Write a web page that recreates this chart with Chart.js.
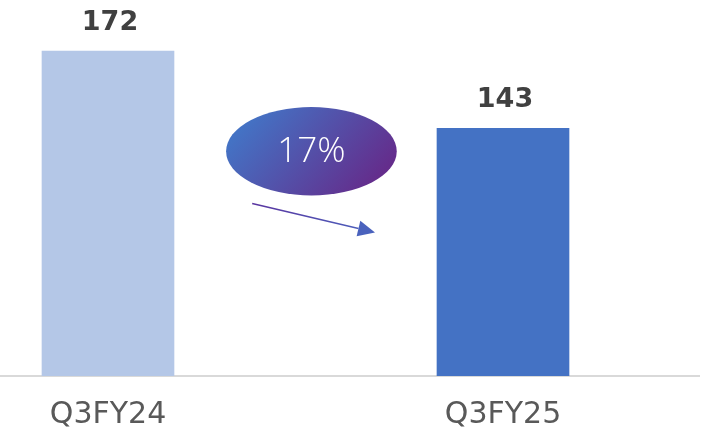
<!DOCTYPE html>
<html>
<head>
<meta charset="utf-8">
<script src="https://cdn.jsdelivr.net/npm/chart.js@4.4.1/dist/chart.umd.min.js"></script>
<style>
  html, body { margin: 0; padding: 0; background: #fff; }
  #wrap { width: 708px; height: 432px; position: relative; }
</style>
</head>
<body>
<div id="wrap"><canvas id="chart"></canvas></div>
<script>
// chart data
var categories = ['Q3FY24', 'Q3FY25'];
var values = [172, 143];
var barColors = ['#b4c7e7', '#4472c4'];
var changeLabel = '17%';

// bubble + arrow placed in data space (x = category index, y = value)
var bubbleAt = { x: 0.515, y: 134.4, rx: 0.216, ry: 16.6 };
var arrowFrom = { x: 0.365, y: 114.8 };
var arrowTo = { x: 0.676, y: 103.9 };

var valueLabels = {
    id: 'valueLabels',
    afterDatasetsDraw: function (chart) {
        var ctx = chart.ctx;
        var meta = chart.getDatasetMeta(0);
        ctx.save();
        ctx.font = 'bold 27px "DejaVu Sans"';
        ctx.fillStyle = '#404040';
        ctx.textAlign = 'center';
        ctx.textBaseline = 'alphabetic';
        meta.data.forEach(function (bar, i) {
            ctx.fillText(values[i], bar.x + 2, bar.y - 21);
        });
        ctx.restore();
    }
};

var changeBubble = {
    id: 'changeBubble',
    afterDatasetsDraw: function (chart) {
        var ctx = chart.ctx;
        var xs = chart.scales.x, ys = chart.scales.y;
        var cx = xs.getPixelForValue(bubbleAt.x), cy = ys.getPixelForValue(bubbleAt.y);
        var rx = xs.getPixelForValue(bubbleAt.x + bubbleAt.rx) - cx;
        var ry = cy - ys.getPixelForValue(bubbleAt.y + bubbleAt.ry);

        ctx.save();
        var g = ctx.createLinearGradient(cx - rx * 0.6, cy - ry, cx + rx * 0.6, cy + ry);
        g.addColorStop(0, '#4472c4');
        g.addColorStop(1, '#642d8c');
        ctx.beginPath();
        ctx.ellipse(cx, cy, rx, ry, 0, 0, Math.PI * 2);
        ctx.fillStyle = g;
        ctx.fill();

        ctx.font = '300 35px "Open Sans"';
        ctx.fillStyle = '#ffffff';
        ctx.textAlign = 'center';
        ctx.textBaseline = 'middle';
        ctx.fillText(changeLabel, cx, cy + 1);

        // arrow
        var x1 = xs.getPixelForValue(arrowFrom.x), y1 = ys.getPixelForValue(arrowFrom.y);
        var x2 = xs.getPixelForValue(arrowTo.x), y2 = ys.getPixelForValue(arrowTo.y);
        var ang = Math.atan2(y2 - y1, x2 - x1);
        var head = 17, half = 8;
        var bx = x2 - head * Math.cos(ang), by = y2 - head * Math.sin(ang);
        var lg = ctx.createLinearGradient(x1, y1, x2, y2);
        lg.addColorStop(0, '#5a35a0');
        lg.addColorStop(1, '#4a62bd');
        ctx.strokeStyle = lg;
        ctx.lineWidth = 1.5;
        ctx.beginPath();
        ctx.moveTo(x1, y1);
        ctx.lineTo(bx, by);
        ctx.stroke();
        ctx.fillStyle = '#4a62bd';
        ctx.beginPath();
        ctx.moveTo(x2, y2);
        ctx.lineTo(bx + half * Math.sin(ang), by - half * Math.cos(ang));
        ctx.lineTo(bx - half * Math.sin(ang), by + half * Math.cos(ang));
        ctx.closePath();
        ctx.fill();
        ctx.restore();
    }
};

new Chart(document.getElementById('chart'), {
    type: 'bar',
    data: {
        datasets: [{
            data: values.map(function (v, i) { return { x: i, y: v }; }),
            backgroundColor: barColors,
            borderWidth: 0,
            barThickness: 132
        }]
    },
    options: {
        responsive: true, maintainAspectRatio: false, animation: false,
        layout: { padding: { left: 0, right: 9, top: 0, bottom: -22 } },
        plugins: { legend: { display: false }, tooltip: { enabled: false } },
        scales: {
            x: {
                type: 'linear', min: -0.2734, max: 1.4962, offset: false,
                afterBuildTicks: function (scale) {
                    scale.ticks = categories.map(function (_, i) { return { value: i }; });
                },
                grid: { display: false, drawTicks: false, offset: false },
                border: { display: true, color: '#d9d9d9', width: 2 },
                ticks: {
                    padding: 21, color: '#595959', maxRotation: 0, minRotation: 0, autoSkip: false,
                    font: { family: 'DejaVu Sans', size: 30 },
                    callback: function (v) { return categories[v]; }
                }
            },
            y: { display: false, min: 50, max: 191.2 }
        }
    },
    plugins: [valueLabels, changeBubble]
});
</script>
</body>
</html>
